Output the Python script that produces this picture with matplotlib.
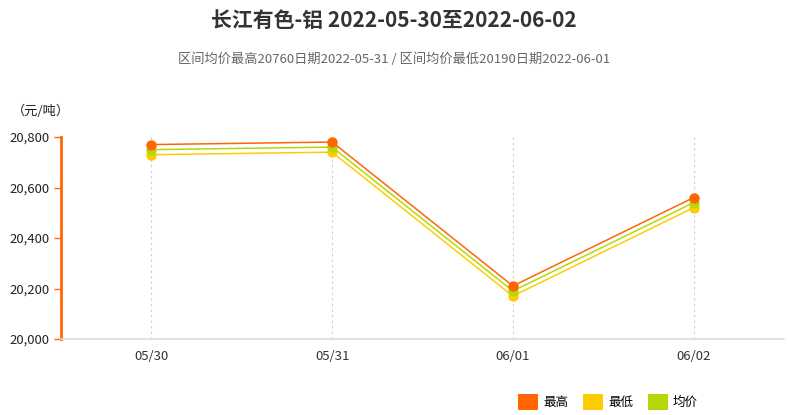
import matplotlib
matplotlib.use("Agg")
import matplotlib.pyplot as plt
from matplotlib.patches import Patch

plt.rcParams['font.family'] = ['Noto Sans CJK SC', 'DejaVu Sans']

categories = ["05/30", "05/31", "06/01", "06/02"]
high = [20770, 20780, 20210, 20560]
low = [20730, 20740, 20170, 20520]
avg = [20750, 20760, 20190, 20540]
yticks = [20000, 20200, 20400, 20600, 20800]

c_high = "#FF6600"
c_low = "#FFCC00"
c_avg = "#B3D90A"

W, H = 788, 415
fig = plt.figure(figsize=(W / 100, H / 100), dpi=100)
ax = fig.add_axes([61 / W, (H - 339) / H, (784 - 61) / W, (339 - 137) / H])

x = list(range(len(categories)))
ax.plot(x, low, color=c_low, lw=1.1, marker="o", ms=6.5, mec=c_low, zorder=3)
ax.plot(x, avg, color=c_avg, lw=1.1, marker="o", ms=6.5, mec=c_avg, zorder=4)
ax.plot(x, high, color=c_high, lw=1.1, marker="o", ms=6.5, mec=c_high, zorder=5)

ax.set_xlim(-0.5, 3.5)
ax.set_ylim(20000, 20800)
ax.set_xticks(x)
ax.set_xticklabels(categories, fontsize=9.5, color="#333333")
ax.set_yticks(yticks)
ax.set_yticklabels([f"{v:,}" for v in yticks], fontsize=9.5, color="#222222")

for xi in x:
    ax.axvline(xi, color="#CCCCCC", lw=0.8, ls=(0, (2, 3)), zorder=1)

for s in ["top", "right"]:
    ax.spines[s].set_visible(False)
ax.spines["left"].set_color(c_high)
ax.spines["left"].set_linewidth(2)
ax.spines["bottom"].set_color("#DDDDDD")
ax.spines["bottom"].set_linewidth(1.2)
ax.tick_params(axis="y", colors=c_high, length=5, width=1, labelcolor="#222222")
ax.tick_params(axis="x", length=0, pad=8)

fig.text(12 / W, (H - 111) / H, "（元/吨）", fontsize=9.5, color="#222222",
         ha="left", va="center")
fig.text(0.5, (H - 20) / H, "长江有色-铝 2022-05-30至2022-06-02", fontsize=15,
         fontweight="bold", color="#333333", ha="center", va="center")
fig.text(0.5, (H - 59) / H, "区间均价最高20760日期2022-05-31 / 区间均价最低20190日期2022-06-01",
         fontsize=9.5, color="#666666", ha="center", va="center")

handles = [Patch(facecolor=c_high, edgecolor="none"),
           Patch(facecolor=c_low, edgecolor="none"),
           Patch(facecolor=c_avg, edgecolor="none")]
fig.legend(handles, ["最高", "最低", "均价"], loc="center", ncol=3,
           bbox_to_anchor=(608 / W, (H - 402) / H), frameon=False, fontsize=9,
           handlelength=1.6, handleheight=1.6, handletextpad=0.4, columnspacing=1.2)

fig.savefig("out.png", dpi=100)
